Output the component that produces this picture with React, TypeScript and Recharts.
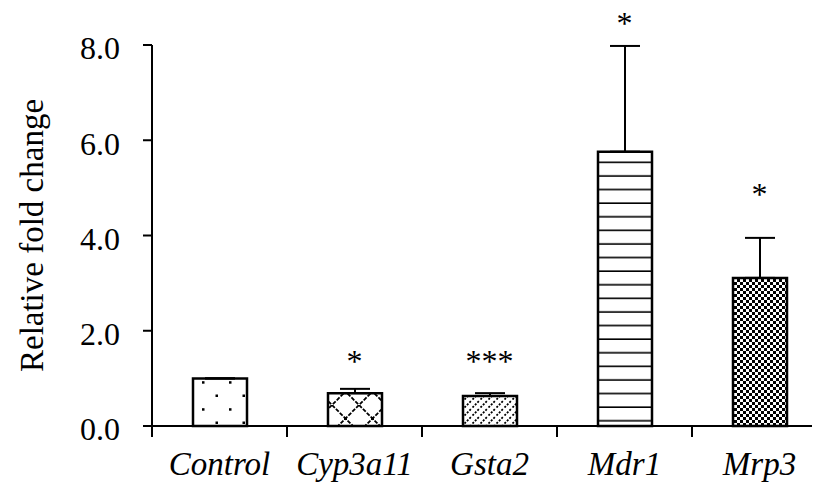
import { BarChart, Bar, XAxis, YAxis, Cell, ErrorBar, ReferenceDot } from 'recharts'

const categories = ['Control', 'Cyp3a11', 'Gsta2', 'Mdr1', 'Mrp3']
const foldChange = [1.0, 0.69, 0.63, 5.76, 3.11]
const upperError = [0, 0.09, 0.06, 2.22, 0.84]
const significance = ['', '*', '***', '*', '*']
const starLevel = [0, 1.49, 1.49, 8.59, 5.0]
const yTicks = [0, 2, 4, 6, 8]
const fills = ['url(#dots)', 'url(#lattice)', 'url(#diag)', 'url(#hlines)', 'url(#checker)']

const data = categories.map((name, i) => ({
  name,
  value: foldChange[i],
  err: [0, upperError[i]],
}))

const FONT = "'Liberation Serif', 'Times New Roman', serif"
const CHART_W = 819
const CHART_H = 491
const Y_W = 144
const BAND = (CHART_W - Y_W) / categories.length

const XTick = (props: any) => {
  const { x, y, payload } = props
  return (
    <g>
      <line x1={x - BAND / 2} x2={x - BAND / 2} y1={y} y2={y + 11} stroke="#000" strokeWidth={2} />
      <text x={x} y={y + 49} textAnchor="middle" fontFamily={FONT} fontStyle="italic" fontSize={33} fill="#000">
        {payload.value}
      </text>
    </g>
  )
}

const YLabel = (props: any) => {
  const vb = props.viewBox
  const cy = vb.y + vb.height / 2
  return (
    <text x={24} y={cy} transform={`rotate(-90 24 ${cy})`} textAnchor="middle" dominantBaseline="central"
      fontFamily={FONT} fontSize={33} fill="#000">
      Relative fold change
    </text>
  )
}

const Star = (text: string) => (props: any) => (
  <text x={props.cx} y={props.cy + 17} textAnchor="middle" fontFamily={FONT} fontSize={32} fill="#000">
    {text}
  </text>
)

export default function App() {
  return (
    <div style={{ width: 812, height: 491, marginTop: -8, overflow: 'hidden' }}>
      <BarChart width={CHART_W} height={CHART_H} data={data} margin={{ top: 45, right: 0, left: 0, bottom: 0 }}>
        <defs>
          <pattern id="dots" width={27} height={27} patternUnits="userSpaceOnUse">
            <rect width={27} height={27} fill="#fff" />
            <rect x={5} y={3.2} width={2.5} height={2.5} fill="#000" />
            <rect x={18.5} y={16.5} width={2.5} height={2.5} fill="#000" />
          </pattern>
          <pattern id="lattice" width={27} height={27} patternUnits="userSpaceOnUse">
            <rect width={27} height={27} fill="#fff" />
            <path d="M0,0 L27,27 M27,0 L0,27" stroke="#000" strokeWidth={1.8} strokeDasharray="4 1.5" />
            <rect x={12} y={12} width={3} height={3} fill="#000" />
          </pattern>
          <pattern id="diag" width={8} height={8} patternUnits="userSpaceOnUse">
            <rect width={8} height={8} fill="#fff" />
            <path d="M-2,10 L10,-2" stroke="#000" strokeWidth={1.8} strokeDasharray="2 1.5" />
          </pattern>
          <pattern id="hlines" width={10} height={13.6} patternUnits="userSpaceOnUse">
            <rect width={10} height={13.6} fill="#fff" />
            <rect x={0} y={12} width={10} height={2} fill="#000" />
          </pattern>
          <pattern id="checker" width={6} height={6} patternUnits="userSpaceOnUse">
            <rect width={6} height={6} fill="#fff" />
            <rect x={0} y={0} width={3} height={3} fill="#000" />
            <rect x={3} y={3} width={3} height={3} fill="#000" />
          </pattern>
        </defs>
        <XAxis
          dataKey="name"
          height={65}
          axisLine={{ stroke: '#000', strokeWidth: 2 }}
          tickLine={false}
          tickSize={0}
          tickMargin={0}
          tick={<XTick />}
          interval={0}
        />
        <YAxis
          width={Y_W}
          domain={[0, 8]}
          ticks={yTicks}
          tickFormatter={(v: number) => v.toFixed(1)}
          axisLine={{ stroke: '#000', strokeWidth: 2 }}
          tickLine={{ stroke: '#000', strokeWidth: 2 }}
          tickSize={9}
          tickMargin={23}
          tick={{ fontFamily: FONT, fontSize: 32, fill: '#000', dy: 3 }}
          label={<YLabel />}
        />
        <Bar dataKey="value" barSize={54} stroke="#000" strokeWidth={2.5} isAnimationActive={false}>
          {data.map((d, i) => (
            <Cell key={d.name} fill={fills[i]} />
          ))}
          <ErrorBar dataKey="err" direction="y" width={15} stroke="#000" strokeWidth={2} isAnimationActive={false} />
        </Bar>
        {categories.map((c, i) =>
          significance[i] ? (
            <ReferenceDot key={c} x={c} y={starLevel[i]} ifOverflow="visible" shape={Star(significance[i])} />
          ) : null
        )}
      </BarChart>
    </div>
  )
}
